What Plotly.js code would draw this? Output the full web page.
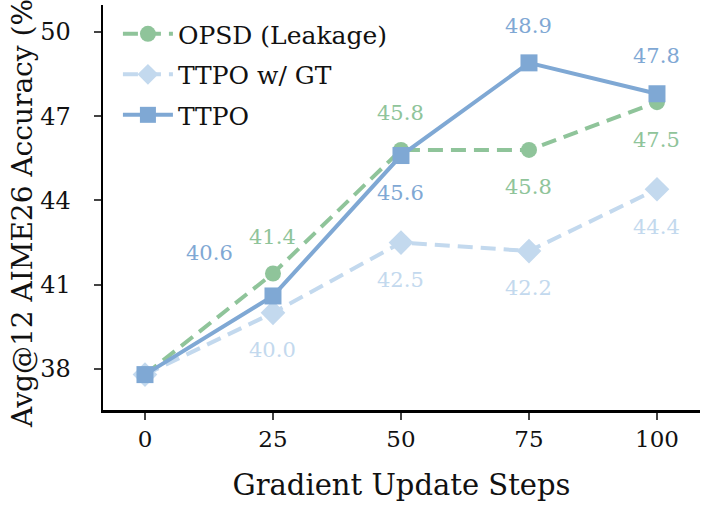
<!DOCTYPE html>
<html>
<head>
<meta charset="utf-8">
<script src="https://cdn.plot.ly/plotly-3.0.1.min.js"></script>
<style>body{margin:0;background:#fff}#chart{width:704px;height:507px}</style>
</head>
<body>
<div id="chart"></div>
<script>
// gradient update steps
const steps = [0, 25, 50, 75, 100];
const opsd = [37.8, 41.4, 45.8, 45.8, 47.5];
const ttpoGT = [37.8, 40.0, 42.5, 42.2, 44.4];
const ttpo = [37.8, 40.6, 45.6, 48.9, 47.8];
const yTicks = [38, 41, 44, 47, 50];

const green = '#8fc49a', blue = '#7fa8d4', light = '#c3d9ee';
const serif = 'DejaVu Serif';

// label offsets (px) per point, index 0 has no label
const opsdOff = [null, [0, -37], [0, -37], [0, 37], [0, 38]];
const gtOff = [null, [0, 37], [0, 37], [0, 37], [0, 38]];
const ttpoOff = [null, [-63, -43], [0, 37], [0, -37], [0, -38]];

function labels(ys, offs, color) {
  const out = [];
  steps.forEach((s, i) => {
    if (!offs[i]) return;
    out.push({
      x: s, y: ys[i], text: ys[i].toFixed(1), showarrow: true, arrowcolor: 'rgba(0,0,0,0)',
      ax: offs[i][0], ay: offs[i][1], font: {family: serif, size: 21, color: color}
    });
  });
  return out;
}

const data = [
  {x: steps, y: ttpoGT, name: 'TTPO w/ GT', mode: 'lines+markers', legendrank: 2, legendgroup: 'b',
   line: {color: light, width: 4, dash: '15px,8px'}, marker: {symbol: 'diamond', size: 19, color: light}},
  {x: steps, y: opsd, name: 'OPSD (Leakage)', mode: 'lines+markers', legendrank: 1, legendgroup: 'a',
   line: {color: green, width: 4, dash: '15px,8px'}, marker: {symbol: 'circle', size: 16, color: green}},
  {x: steps, y: ttpo, name: 'TTPO', mode: 'lines+markers', legendrank: 3, legendgroup: 'c',
   line: {color: blue, width: 4}, marker: {symbol: 'square', size: 17, color: blue}}
];

const layout = {
  width: 704, height: 507,
  margin: {l: 103, r: 4, t: 5, b: 97},
  paper_bgcolor: '#fff', plot_bgcolor: '#fff',
  font: {family: serif, color: '#111', size: 24},
  showlegend: true,
  legend: {x: 0.025, y: 0.985, xanchor: 'left', yanchor: 'top', bgcolor: 'rgba(255,255,255,0)',
    font: {family: serif, size: 25}, itemwidth: 50, tracegroupgap: 5},
  xaxis: {
    range: [-8.2, 108.4], tickvals: steps, ticks: 'outside', ticklen: 7, tickwidth: 2,
    showgrid: false, zeroline: false, showline: true, linewidth: 2.5, linecolor: '#000',
    tickfont: {size: 23}, title: {text: 'Gradient Update Steps', font: {size: 29}, standoff: 24}
  },
  yaxis: {
    range: [36.54, 50.96], tickvals: yTicks, ticks: 'outside', ticklen: 7, tickwidth: 2,
    ticklabelstandoff: 18,
    showgrid: false, zeroline: false, showline: true, linewidth: 2.5, linecolor: '#000',
    tickfont: {size: 24}, title: {text: 'Avg@12 AIME26 Accuracy (%)', font: {size: 28}, standoff: 0}
  },
  annotations: [].concat(labels(opsd, opsdOff, green), labels(ttpoGT, gtOff, light), labels(ttpo, ttpoOff, blue))
};

Plotly.newPlot('chart', data, layout, {staticPlot: true});
</script>
</body>
</html>
